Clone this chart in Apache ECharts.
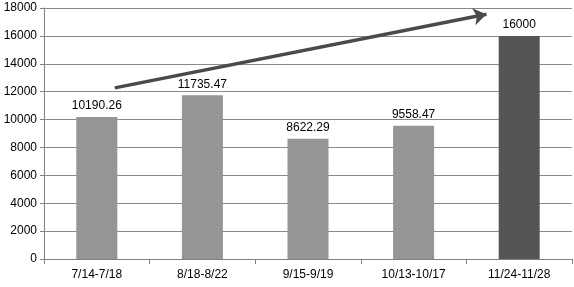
<!DOCTYPE html>
<html><head><meta charset="utf-8">
<script src="https://cdn.jsdelivr.net/npm/echarts@6/dist/echarts.min.js"></script>
<style>html,body{margin:0;padding:0;background:#fff}#c{width:574px;height:287px}</style>
</head><body><div id="c"></div>
<script>
const categories = ['7/14-7/18', '8/18-8/22', '9/15-9/19', '10/13-10/17', '11/24-11/28'];
const values = [10190.26, 11735.47, 8622.29, 9558.47, 16000];
const barColors = ['#959595', '#959595', '#959595', '#959595', '#555555'];
const yTicks = [0, 2000, 4000, 6000, 8000, 10000, 12000, 14000, 16000, 18000];
// trend arrow endpoints in data units (x: category position, y: value)
const arrowStart = [0.17, 12270];
const arrowEnd = [3.69, 17550];

const chart = echarts.init(document.getElementById('c'), null, {renderer: 'canvas'});
chart.setOption({
  animation: false,
  backgroundColor: '#fff',
  textStyle: {fontFamily: 'Liberation Sans'},
  grid: {left: 44, right: 2, top: 8, bottom: 28, containLabel: false},
  xAxis: [{
    type: 'category',
    data: categories,
    axisLine: {lineStyle: {color: '#808080', width: 1}},
    axisTick: {show: true, alignWithLabel: false, length: 5, lineStyle: {color: '#808080'}},
    axisLabel: {color: '#000', fontSize: 12, margin: 10, fontFamily: 'Liberation Sans'}
  }, {
    type: 'value', min: -0.5, max: 4.5, show: false
  }],
  yAxis: {
    type: 'value', min: yTicks[0], max: yTicks[yTicks.length - 1], interval: 2000,
    axisLine: {show: true, onZero: false, lineStyle: {color: '#808080'}},
    axisTick: {show: true, length: 4, lineStyle: {color: '#808080'}},
    axisLabel: {color: '#000', fontSize: 12, margin: 7, fontFamily: 'Liberation Sans', formatter: v => String(v)},
    splitLine: {lineStyle: {color: '#8a8a8a', width: 1}}
  },
  series: [{
    type: 'bar',
    barWidth: 41,
    data: values.map((v, i) => ({value: v, itemStyle: {color: barColors[i]}})),
    label: {show: true, position: 'top', distance: 5, color: '#000', fontSize: 12, fontFamily: 'Liberation Sans'}
  }, {
    type: 'lines',
    coordinateSystem: 'cartesian2d',
    xAxisIndex: 1, yAxisIndex: 0,
    symbol: ['none', 'arrow'],
    symbolSize: 13,
    lineStyle: {color: '#4a4a4a', width: 3.5, opacity: 1, curveness: 0},
    data: [{coords: [arrowStart, arrowEnd]}]
  }]
});
</script></body></html>
